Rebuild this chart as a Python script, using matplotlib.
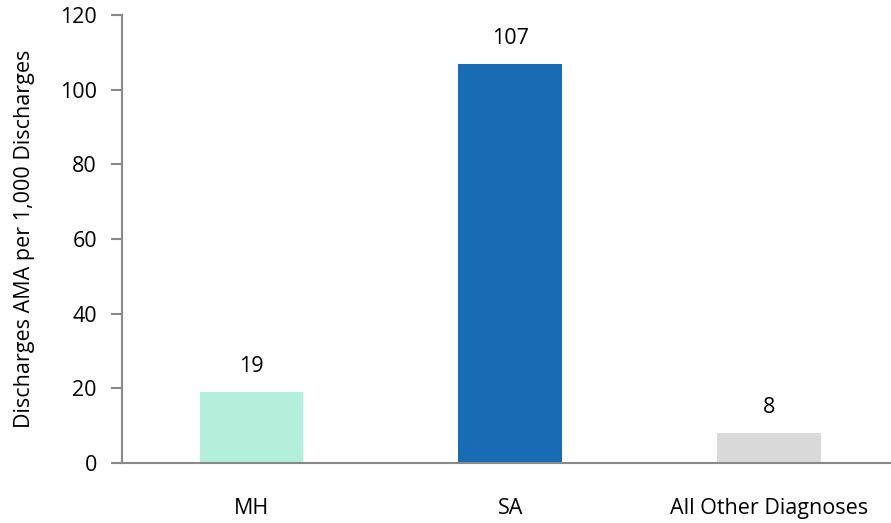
import matplotlib
matplotlib.use("Agg")
import matplotlib.pyplot as plt

categories = ["MH", "SA", "All Other Diagnoses"]
values = [19, 107, 8]
colors = ["#b4efdb", "#186cb4", "#d9d9d9"]
yticks = [0, 20, 40, 60, 80, 100, 120]

plt.rcParams['font.family'] = ['Open Sans', 'DejaVu Sans']
FS = 15.5

fig = plt.figure(figsize=(8.91, 5.23), dpi=100)
ax = fig.add_axes([122/891, 60/523, (898.5-122)/891, (463-15)/523])
x = range(len(categories))
bars = ax.bar(x, values, width=0.40, color=colors, zorder=2)
for xi, v in zip(x, values):
    ax.text(xi, v + 4, f"{v}", ha="center", va="bottom", fontsize=FS)
ax.set_xlim(-0.5, 2.5)
ax.set_ylim(0, 120)
ax.set_yticks(yticks)
ax.set_xticks(list(x))
ax.set_xticklabels(categories, fontsize=FS)
ax.tick_params(axis='y', labelsize=FS, length=8, color="#898989", width=1.5, pad=10)
ax.tick_params(axis='x', length=0, pad=25)
for s in ["top", "right"]:
    ax.spines[s].set_visible(False)
for s in ["left", "bottom"]:
    ax.spines[s].set_color("#898989")
    ax.spines[s].set_linewidth(1.5)
ax.set_ylabel("Discharges AMA per 1,000 Discharges", fontsize=FS, labelpad=18)
fig.savefig("out.png", dpi=100)
